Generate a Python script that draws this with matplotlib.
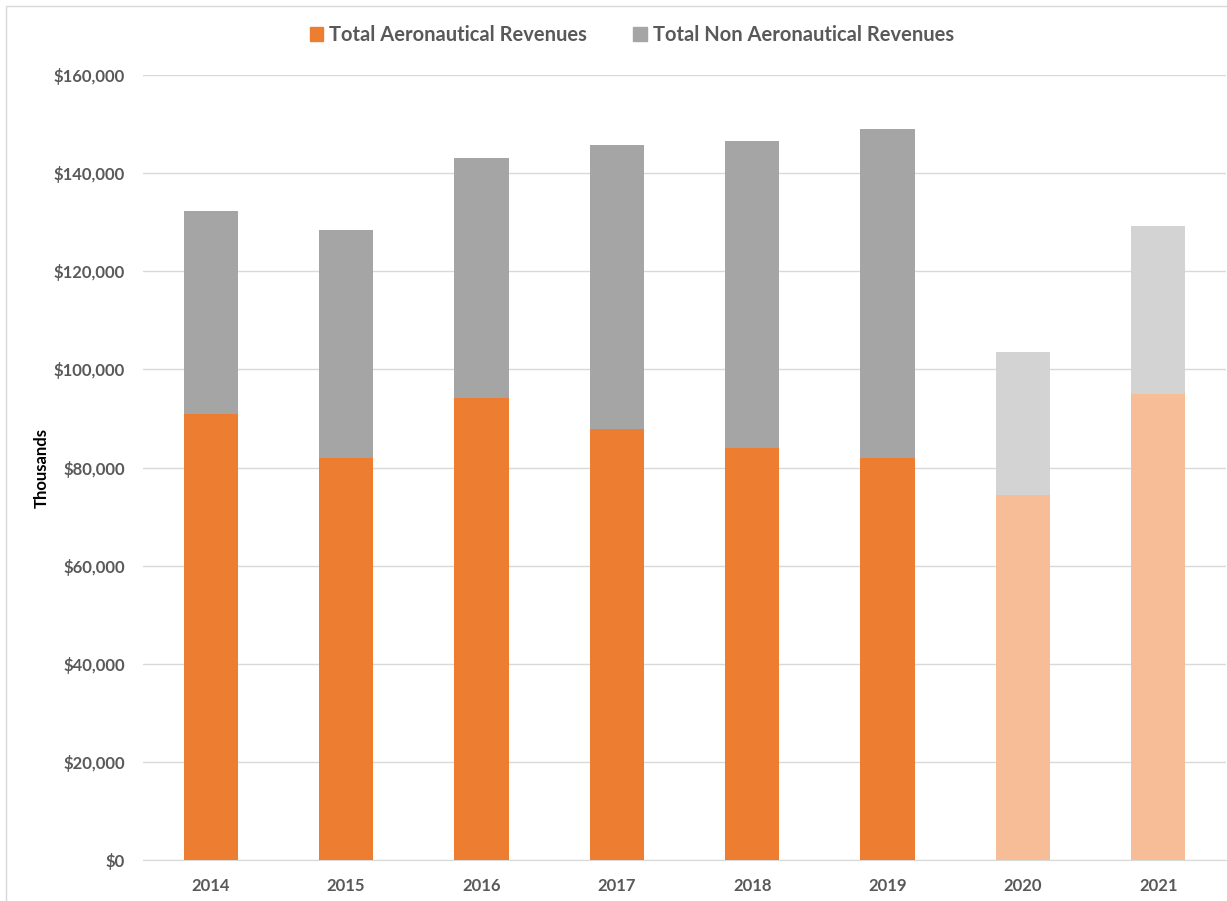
import numpy as np
from matplotlib import pyplot as plt
from matplotlib.patches import Rectangle
from matplotlib.ticker import FuncFormatter

years = ['2014', '2015', '2016', '2017', '2018', '2019', '2020', '2021']
aero = [91000, 82000, 94200, 87900, 84000, 82000, 74400, 95000]
total = [132300, 128400, 143100, 145700, 146600, 149000, 103500, 129200]
non_aero = [t - a for t, a in zip(total, aero)]

orange = ['#ED7D31'] * 6 + ['#F6BD97'] * 2
grey = ['#A5A5A5'] * 6 + ['#D3D3D3'] * 2

plt.rcParams['font.family'] = ['Lato', 'DejaVu Sans']

fig = plt.figure(figsize=(12.27, 9.01), dpi=100)
ax = fig.add_axes([143/1227, 41/901, (1226-143)/1227, (860-75)/901])

x = np.arange(len(years))
ax.bar(x, aero, width=0.4, color=orange, zorder=3)
ax.bar(x, non_aero, width=0.4, bottom=aero, color=grey, zorder=3)

ax.set_xlim(-0.5, 7.5)
ax.set_ylim(0, 160000)
ax.set_yticks(np.arange(0, 160001, 20000))
ax.yaxis.set_major_formatter(FuncFormatter(lambda v, p: '${:,.0f}'.format(v)))
ax.set_xticks(x)
ax.set_xticklabels(years)
ax.tick_params(length=0, labelsize=12, labelcolor='#595959', pad=13)
for lab in ax.get_xticklabels() + ax.get_yticklabels():
    lab.set_fontweight('bold')
ax.grid(axis='y', color='#D9D9D9', lw=1, zorder=0)
for s in ['top', 'right', 'left']:
    ax.spines[s].set_visible(False)
ax.spines['bottom'].set_color('#D9D9D9')

fig.text(42/1227, 1 - 468/901, 'Thousands', rotation=90, ha='center', va='center',
         fontsize=12, fontweight='bold', color='black')

h1 = Rectangle((0, 0), 1, 1, color='#ED7D31')
h2 = Rectangle((0, 0), 1, 1, color='#A5A5A5')
leg = fig.legend([h1, h2], ['Total Aeronautical Revenues', 'Total Non Aeronautical Revenues'],
                 loc='center', bbox_to_anchor=(0.515, 1 - 35/901), ncol=2, frameon=False,
                 handlelength=0.65, handleheight=0.65, handletextpad=0.3, columnspacing=2.3,
                 prop={'size': 14.5, 'weight': 'bold'})
for t in leg.get_texts():
    t.set_color('#595959')

fig.patches.append(Rectangle((6/1227, -0.01), 1.1, 1 - 6/901 + 0.01, transform=fig.transFigure,
                             fill=False, edgecolor='#D9D9D9', lw=1))

plt.savefig('out.png', dpi=100)
